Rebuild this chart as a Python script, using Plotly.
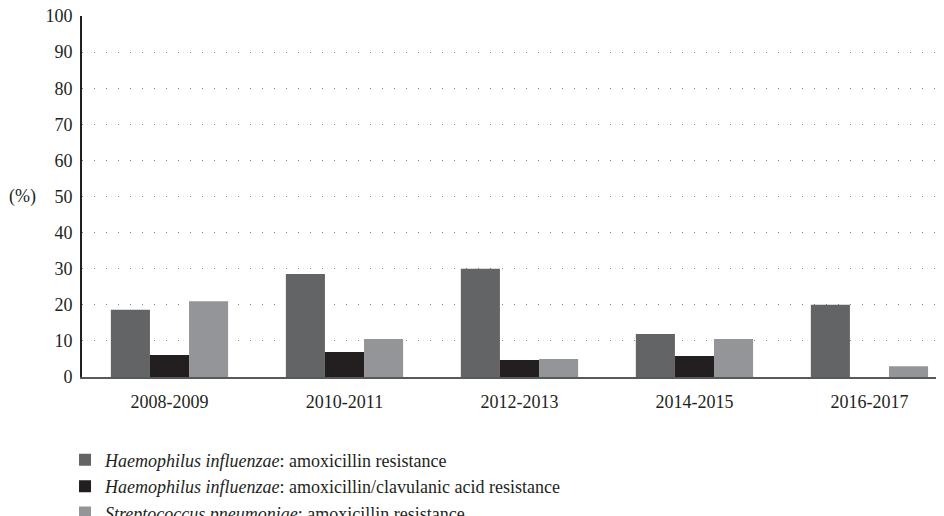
import plotly.graph_objects as go

categories = ["2008-2009", "2010-2011", "2012-2013", "2014-2015", "2016-2017"]
hi_amox = [18.6, 28.5, 30.0, 11.9, 20.0]
hi_amoxclav = [6.1, 6.9, 4.7, 5.8, 0.0]
sp_amox = [21.0, 10.5, 5.0, 10.5, 3.0]
series_names = [
    "<i>Haemophilus influenzae</i>: amoxicillin resistance",
    "<i>Haemophilus influenzae</i>: amoxicillin/clavulanic acid resistance",
    "<i>Streptococcus pneumoniae</i>: amoxicillin resistance",
]
colors = ["#636466", "#231f20", "#939598"]
y_ticks = list(range(0, 101, 10))

FONT = "Liberation Serif, Times New Roman, serif"

fig = go.Figure()
for name, vals, col in zip(series_names, [hi_amox, hi_amoxclav, sp_amox], colors):
    fig.add_trace(go.Bar(x=categories, y=vals, name=name, marker=dict(color=col, line=dict(width=0))))

fig.update_layout(
    template="none",
    width=944, height=516,
    margin=dict(l=74, r=8, t=8, b=147, autoexpand=False),
    paper_bgcolor="white", plot_bgcolor="white",
    barmode="group", bargap=0.33, bargroupgap=0,
    font=dict(family=FONT, size=18, color="#231f20"),
    showlegend=True,
    legend=dict(
        orientation="v", x=-0.0197, xanchor="left", y=-0.179, yanchor="top",
        font=dict(family=FONT, size=18, color="#231f20"),
        traceorder="normal", itemwidth=30, tracegroupgap=0,
        bgcolor="rgba(0,0,0,0)",
    ),
)
fig.update_xaxes(
    range=[-0.5, 4.426], showgrid=False, showline=True, linecolor="#58595b", linewidth=2,
    ticks="", tickfont=dict(family=FONT, size=18, color="#231f20"),
    ticklabelstandoff=7, automargin=False, ticklabeloverflow="allow",
)
fig.update_yaxes(
    range=[0, 100], tickvals=y_ticks, showgrid=True, gridcolor="#808080", gridwidth=1,
    griddash="1px,11px", showline=True, linecolor="#231f20", linewidth=2,
    ticks="", tickfont=dict(family=FONT, size=18, color="#231f20"), zeroline=False,
    ticklabelstandoff=4, automargin=False, ticklabeloverflow="allow",
)
fig.add_annotation(
    text="(%)", xref="paper", yref="paper", x=-0.051, y=0.5, xanchor="right", yanchor="middle",
    showarrow=False, font=dict(family=FONT, size=18, color="#231f20"),
)
fig.write_html("out.html")
